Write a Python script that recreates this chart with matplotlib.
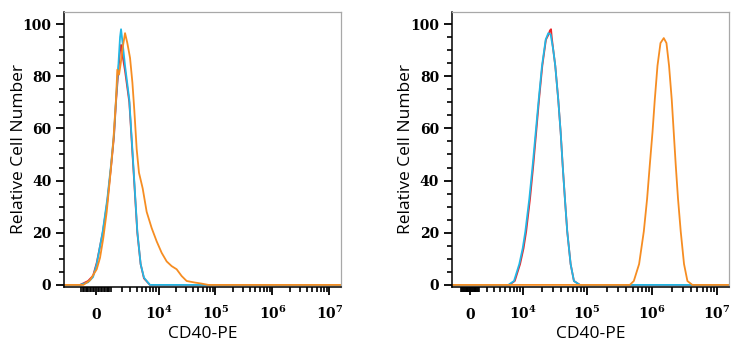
import numpy as np
import matplotlib
matplotlib.use("Agg")
import matplotlib.pyplot as plt
from matplotlib.ticker import FixedLocator

# fluorescence values (CD40-PE) and relative cell numbers
# left panel: control (red, cyan) and stained (orange)
left_red_x = [-2700, -1108, -526, -194, 45, 438, 756, 1030, 1269, 1437, 1648, 1811, 1909, 2061,
              2339, 2864, 3435, 4096, 4722, 5440, 6984, 1.6e7]
left_red_y = [0, 0, 1.5, 3.5, 8.5, 20, 32, 45, 57, 70, 82, 90, 92, 88,
              82, 70, 45, 20, 8, 2.5, 0, 0]
left_cyan_x = [-2700, -1108, -526, -194, 45, 438, 756, 1030, 1269, 1437, 1648, 1811, 1909, 2061,
               2339, 2864, 3435, 4096, 4722, 5440, 6984, 1.6e7]
left_cyan_y = [0, 0, 1, 3, 8, 20.5, 33, 46, 58, 71, 84, 95, 98, 93,
               84, 71, 46, 20.5, 8, 2.8, 0, 0]
left_orange_x = [-2700, -858, -392, 45, 260, 478, 713, 954, 1211, 1437, 1554, 1714, 1880, 2081,
                 2339, 2611, 2963, 3299, 3590, 3987, 4402, 5154, 6096, 7501, 9216, 11312,
                 13872, 16992, 20800, 25488, 31200, 43680, 57280, 74720, 1.6e7]
left_orange_y = [0, 0, 1.8, 6, 10.4, 18, 28, 41, 55, 71, 82.5, 80.6, 85, 91,
                 96.5, 92.7, 87, 77.5, 67, 52, 43, 37, 28, 21.8, 16.7, 12.3,
                 9, 7.2, 6, 3.4, 1.5, 0.9, 0.5, 0, 0]

# right panel: control (red, cyan) and stained (orange)
right_red_x = [-2200, 5860, 7320, 8970, 10200, 11250, 12950, 14600, 16200, 17950, 20200, 23000,
               25300, 26500, 27600, 28300, 29908, 32102, 35708, 38905, 41758, 45269, 49157,
               55458, 62387, 77121, 1.55e7]
right_red_y = [0, 0, 1.5, 8, 14, 20.5, 33, 46, 58.5, 71, 84, 94,
               96, 97.5, 98, 95, 90, 84, 71, 58.5, 46, 33, 20.5,
               8, 1.5, 0, 0]
right_cyan_x = [-2200, 5687, 7107, 8706, 9882, 10907, 12612, 14280, 15916, 17732, 19970, 22791,
                25017, 27243, 29908, 32102, 35708, 38905, 41758, 45269, 49157, 55458, 62387,
                77121, 1.55e7]
right_cyan_y = [0, 0, 1.5, 8, 14, 20.5, 33, 46, 58.5, 71, 84, 94,
                96.5, 96, 90, 84, 71, 58.5, 46, 33, 20.5, 8, 1.5,
                0, 0]
right_orange_x = [-2200, 4.538e5, 5.229e5, 6.309e5, 7.455e5, 8.380e5, 9.222e5, 1.0146e6,
                  1.1007e6, 1.2113e6, 1.3473e6, 1.5141e6, 1.6655e6, 1.826e6, 2.0095e6,
                  2.157e6, 2.315e6, 2.511e6, 2.764e6, 3.107e6, 3.505e6, 4.182e6, 1.55e7]
right_orange_y = [0, 0, 1.5, 8, 20.5, 33, 46, 58.5,
                  71, 84, 92.7, 94.6, 92.7, 84, 71,
                  58.5, 46, 33, 20.5, 8, 1.5, 0, 0]

x_major = [0, 1e4, 1e5, 1e6, 1e7]
x_major_labels = ["0", r"$\mathbf{10^{4}}$", r"$\mathbf{10^{5}}$", r"$\mathbf{10^{6}}$", r"$\mathbf{10^{7}}$"]
y_major = [0, 20, 40, 60, 80, 100]

RED = "#e8262b"
CYAN = "#22b8e6"
ORANGE = "#f68d22"

plt.rcParams["mathtext.fontset"] = "dejavuserif"


def biexp(c):
    ln10 = np.log(10)
    return (lambda v: np.arcsinh(np.asarray(v) / c) / ln10,
            lambda v: c * np.sinh(np.asarray(v) * ln10))


def draw_panel(ax, c, xlim, curves):
    ax.set_xscale("function", functions=biexp(c))
    for xs, ys, col in curves:
        ax.plot(xs, ys, color=col, lw=1.3)
    ax.set_xlim(*xlim)
    ax.set_ylim(-0.8, 104.6)

    # minor ticks: hundreds near zero, then 2..9 per decade
    minors = [-m * 100 for m in range(1, 11)] + [m * 100 for m in range(1, 10)]
    for k in range(3, 7):
        minors += [m * 10 ** k for m in range(1, 10) if m > 1 or k == 3]
    minors = [v for v in minors if xlim[0] < v < xlim[1] and v not in x_major]
    ax.xaxis.set_major_locator(FixedLocator(x_major))
    ax.xaxis.set_minor_locator(FixedLocator(minors))
    ax.set_xticklabels(x_major_labels)
    ax.yaxis.set_major_locator(FixedLocator(y_major))
    ax.yaxis.set_minor_locator(FixedLocator([v for v in range(5, 105, 5) if v % 20]))

    ax.tick_params(which="major", direction="out", length=6, width=1.3, colors="black")
    ax.tick_params(which="minor", direction="out", length=3.5, width=1.2, colors="black")
    ax.tick_params(axis="x", which="major", pad=17)
    ax.tick_params(axis="y", which="major", pad=3)
    for lbl in ax.get_xticklabels():
        lbl.set_va("baseline")
        lbl.set_fontfamily("DejaVu Serif")
        lbl.set_fontweight("bold")
        lbl.set_fontsize(10)
    for lbl in ax.get_yticklabels():
        lbl.set_fontfamily("DejaVu Serif")
        lbl.set_fontweight("bold")
        lbl.set_fontsize(10)

    for side in ["left", "bottom"]:
        ax.spines[side].set_color("black")
        ax.spines[side].set_linewidth(1.1)
    for side in ["top", "right"]:
        ax.spines[side].set_color("#a8a8a8")
        ax.spines[side].set_linewidth(0.9)

    ax.set_xlabel("CD40-PE", fontsize=12.5, family="Open Sans")
    ax.set_ylabel("Relative Cell Number", fontsize=12.5, family="Open Sans")
    ax.xaxis.set_label_coords(0.5, -0.14)
    ax.yaxis.set_label_coords(-0.135, 0.5)


fig = plt.figure(figsize=(7.43, 3.5), dpi=100)
ax1 = fig.add_axes([64 / 743, 63 / 350, 277 / 743, 275 / 350])
ax2 = fig.add_axes([451.7 / 743, 63 / 350, 277.6 / 743, 275 / 350])

draw_panel(ax1, 1600, (-2700, 1.6e7),
           [(left_red_x, left_red_y, RED),
            (left_cyan_x, left_cyan_y, CYAN),
            (left_orange_x, left_orange_y, ORANGE)])
draw_panel(ax2, 3135, (-2200, 1.55e7),
           [(right_red_x, right_red_y, RED),
            (right_cyan_x, right_cyan_y, CYAN),
            (right_orange_x, right_orange_y, ORANGE)])

fig.savefig("out.png", dpi=100)
